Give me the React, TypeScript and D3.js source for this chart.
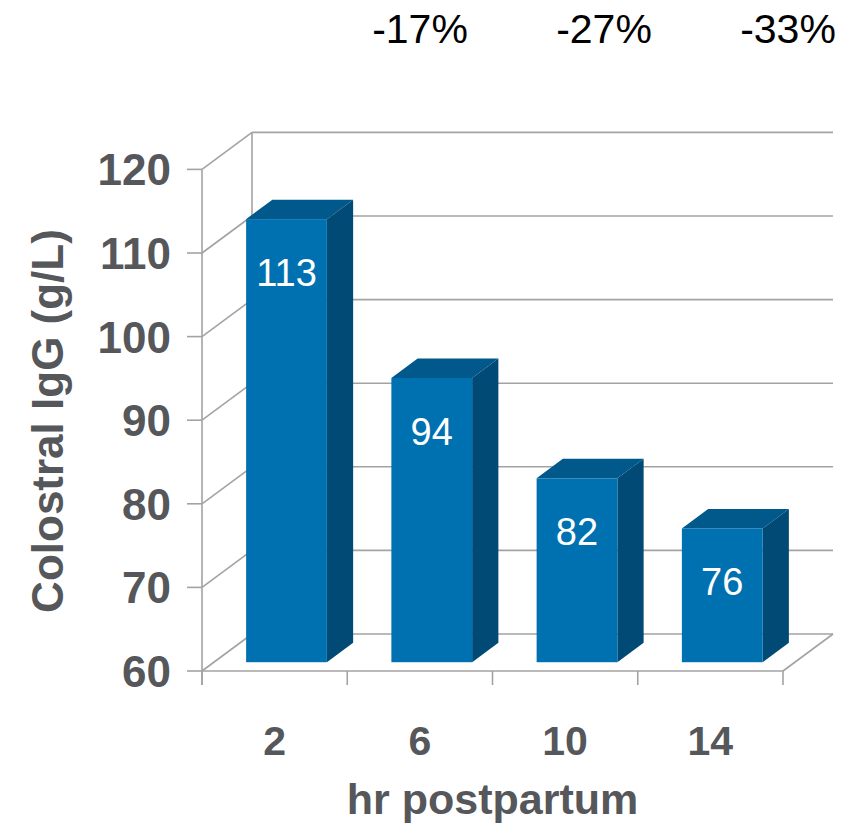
import React from "react";
import * as d3 from "d3";

const categories = ["2", "6", "10", "14"];
const values = [113, 94, 82, 76];
const changeLabels = ["-17%", "-27%", "-33%"];
const yTicks = [60, 70, 80, 90, 100, 110, 120];

const W = 851;
const H = 826;
const FONT = "'Liberation Sans', Arial, Helvetica, sans-serif";
const GRID = "#a3a3a3";
const TEXT = "#55575b";
const FRONT = "#0071b0";
const TOP = "#00588b";
const SIDE = "#004a75";

// 3D projection constants
const DX = 50;
const DY = -37;
const F = 0.525; // bar depth fraction of the floor depth

export default function App() {
  const y = d3.scaleLinear().domain([60, 120]).range([671, 169.4]);
  const x = d3
    .scaleBand<string>()
    .domain(categories)
    .range([202, 783])
    .paddingInner(0.444)
    .paddingOuter(0.222);
  const step = x.step();
  const bw = x.bandwidth();
  const left = 202;
  const right = 783;
  const ox = (DX * (1 - F)) / 2;
  const oy = (DY * (1 - F)) / 2;
  const bdx = DX * F;
  const bdy = DY * F;
  const boundaries = d3.range(categories.length + 1).map((i) => left + i * step);
  const base = y(60);

  return (
    <svg
      width={W}
      height={H}
      viewBox={`0 0 ${W} ${H}`}
      style={{ position: "absolute", left: 0, top: 0, background: "#fff" }}
    >
      {/* back wall gridlines */}
      {yTicks.map((t) => (
        <line
          key={"g" + t}
          x1={left + DX}
          x2={right + DX}
          y1={y(t) + DY}
          y2={y(t) + DY}
          stroke={GRID}
          strokeWidth={1.6}
        />
      ))}
      {/* side wall diagonals */}
      {yTicks.map((t) => (
        <line
          key={"s" + t}
          x1={left}
          x2={left + DX}
          y1={y(t)}
          y2={y(t) + DY}
          stroke={GRID}
          strokeWidth={1.6}
        />
      ))}
      {/* back wall vertical */}
      <line x1={left + DX} x2={left + DX} y1={y(120) + DY} y2={base + DY} stroke={GRID} strokeWidth={1.6} />
      {/* floor */}
      <line x1={left} x2={right} y1={base} y2={base} stroke={GRID} strokeWidth={1.6} />
      <line x1={right} x2={right + DX} y1={base} y2={base + DY} stroke={GRID} strokeWidth={1.6} />

      {/* bars */}
      {categories.map((c, i) => {
        const fx = (x(c) as number) + ox;
        const fy = y(values[i]) + oy;
        const by = base + oy;
        const topPts = [
          [fx, fy],
          [fx + bdx, fy + bdy],
          [fx + bw + bdx, fy + bdy],
          [fx + bw, fy],
        ];
        const sidePts = [
          [fx + bw, fy],
          [fx + bw + bdx, fy + bdy],
          [fx + bw + bdx, by + bdy],
          [fx + bw, by],
        ];
        return (
          <g key={"b" + c}>
            <polygon points={sidePts.map((p) => p.join(",")).join(" ")} fill={SIDE} />
            <polygon points={topPts.map((p) => p.join(",")).join(" ")} fill={TOP} />
            <rect x={fx} y={fy} width={bw} height={by - fy} fill={FRONT} />
            <text
              x={fx + bw / 2}
              y={fy + 67}
              textAnchor="middle"
              fontFamily={FONT}
              fontSize={38}
              fill="#ffffff"
            >
              {values[i]}
            </text>
          </g>
        );
      })}

      {/* front axis */}
      <line x1={left} x2={left} y1={y(120)} y2={base + 14} stroke={GRID} strokeWidth={1.6} />
      {yTicks.map((t) => (
        <line key={"yt" + t} x1={left - 15} x2={left} y1={y(t)} y2={y(t)} stroke={GRID} strokeWidth={1.6} />
      ))}
      {boundaries.map((b, i) => (
        <line key={"xt" + i} x1={b} x2={b} y1={base} y2={base + 14} stroke={GRID} strokeWidth={1.6} />
      ))}

      {/* y tick labels */}
      {yTicks.map((t) => (
        <text
          key={"yl" + t}
          x={171}
          y={y(t) + 16}
          textAnchor="end"
          fontFamily={FONT}
          fontWeight="bold"
          fontSize={44}
          fill={TEXT}
        >
          {t}
        </text>
      ))}
      {/* x tick labels */}
      {categories.map((c) => (
        <text
          key={"xl" + c}
          x={(x(c) as number) + bw / 2}
          y={755}
          textAnchor="middle"
          fontFamily={FONT}
          fontWeight="bold"
          fontSize={41}
          fill={TEXT}
        >
          {c}
        </text>
      ))}
      {/* axis titles */}
      <text
        x={(left + right) / 2}
        y={814}
        textAnchor="middle"
        fontFamily={FONT}
        fontWeight="bold"
        fontSize={43}
        fill={TEXT}
      >
        hr postpartum
      </text>
      <text
        transform={`translate(63, ${421}) rotate(-90)`}
        textAnchor="middle"
        fontFamily={FONT}
        fontWeight="bold"
        fontSize={44}
        fill={TEXT}
      >
        Colostral IgG (g/L)
      </text>

      {/* change annotations */}
      {changeLabels.map((l, i) => (
        <text
          key={"p" + l}
          x={420 + i * 184}
          y={43}
          textAnchor="middle"
          fontFamily={FONT}
          fontSize={41}
          fill="#000000"
        >
          {l}
        </text>
      ))}
    </svg>
  );
}
